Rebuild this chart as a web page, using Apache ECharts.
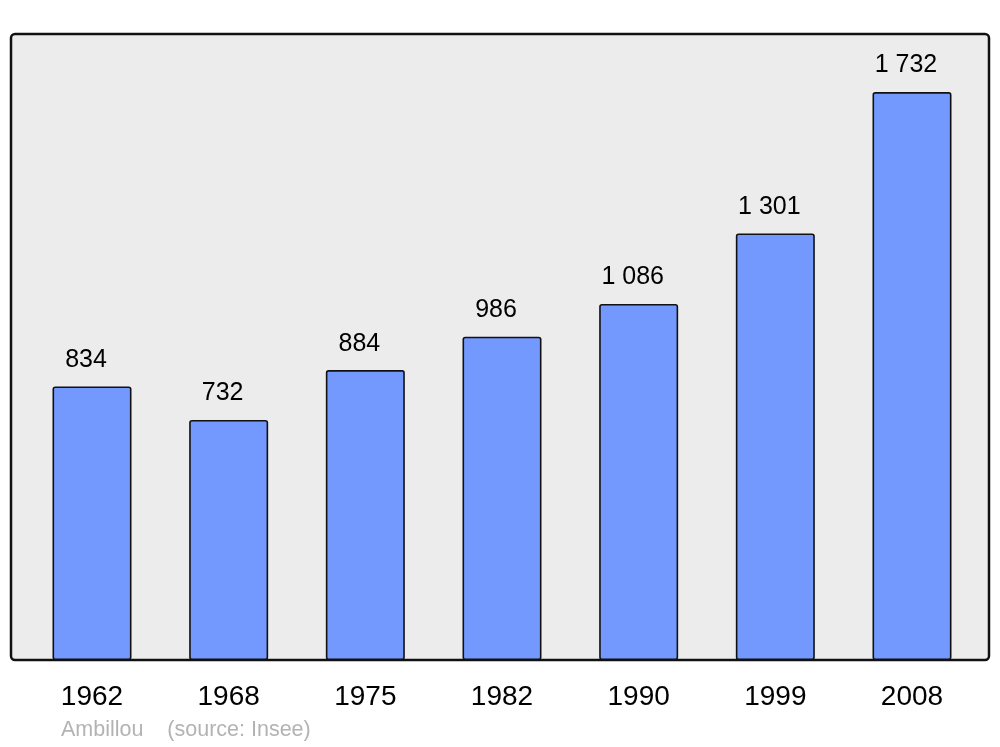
<!DOCTYPE html>
<html>
<head>
<meta charset="utf-8">
<script src="https://cdn.jsdelivr.net/npm/echarts@6/dist/echarts.min.js"></script>
<style>html,body{margin:0;padding:0;background:#fff}#c{width:1000px;height:747px}</style>
</head>
<body>
<div id="c"></div>
<script>
const years = ['1962','1968','1975','1982','1990','1999','2008'];
const population = [834, 732, 884, 986, 1086, 1301, 1732];
const footerText = 'Ambillou    (source: Insee)';

function fmt(v){ return String(v).replace(/\B(?=(\d{3})+(?!\d))/g, ' '); }

const chart = echarts.init(document.getElementById('c'), null, {renderer:'canvas'});
chart.setOption({
  animation:false,
  backgroundColor:'#ffffff',
  textStyle:{fontFamily:'"Liberation Sans", Arial, sans-serif'},
  graphic:[
    {type:'rect', z:-10, shape:{x:11,y:34,width:978,height:626,r:4},
     style:{fill:'#ececec', stroke:'#111111', lineWidth:2.5}},
    {type:'text', z:10, x:61, y:730,
     style:{text:footerText, fill:'#b3b3b3', font:'21.5px "Liberation Sans", Arial, sans-serif', textVerticalAlign:'middle'}}
  ],
  grid:{left:23.67, right:19.67, top:34, bottom:87, containLabel:false},
  xAxis:{type:'category', data:years,
    axisLine:{show:false}, axisTick:{show:false},
    axisLabel:{color:'#000', fontSize:28, margin:23, fontFamily:'"Liberation Sans", Arial, sans-serif'}},
  yAxis:{type:'value', min:0, max:1909, show:false, splitLine:{show:false}},
  series:[{
    type:'bar', data:population, barWidth:79,
    itemStyle:{color:'#7399ff', borderColor:'#111', borderWidth:1.6, borderRadius:2},
    label:{show:true, position:'top', distance:14, offset:[-6,0], color:'#000', fontSize:25,
      fontFamily:'"Liberation Sans", Arial, sans-serif',
      formatter:p=>fmt(p.value)}
  }]
});
</script>
</body>
</html>
